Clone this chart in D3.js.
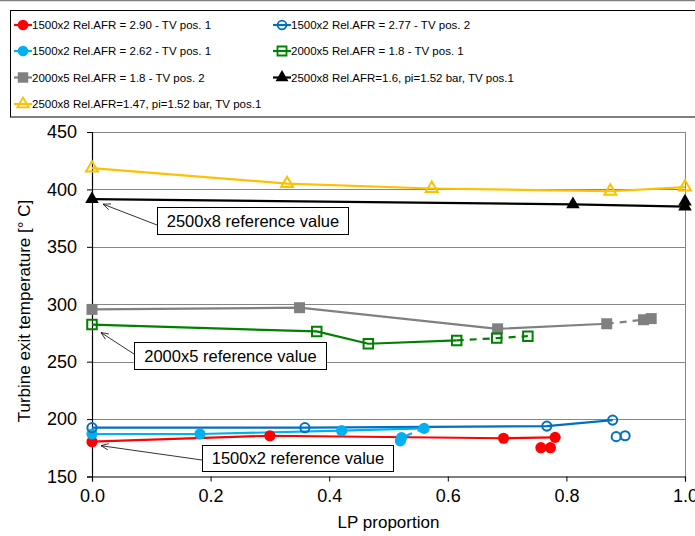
<!DOCTYPE html>
<html>
<head>
<meta charset="utf-8">
<script src="https://cdn.jsdelivr.net/npm/d3@7/dist/d3.min.js"></script>
<style>
  html, body { margin: 0; padding: 0; background: #fff; }
  svg { display: block; font-family: "Liberation Sans", Arial, sans-serif; }
</style>
</head>
<body>
<svg id="chart" width="695" height="536"></svg>
<script>
// LP proportion (x) and turbine exit temperature in °C (y) per test series
const red1500Line   = [[0, 180.3], [0.300, 185.5], [0.694, 183.3], [0.781, 184.1]];
const red1500Extra  = [[0.757, 175.1], [0.773, 175.1]];
const blue1500Line  = [[0, 192.5], [0.359, 192.5], [0.767, 193.9], [0.878, 199.1]];
const blue1500Extra = [[0.884, 184.7], [0.899, 185.5]];
const cyan1500Line  = [[0, 187.0], [0.182, 187.0], [0.421, 189.9], [0.560, 191.9]];
const cyan1500Dash  = [[0.560, 191.9], [0.522, 183.8], [0.520, 181.0]];
const green2000Line = [[0, 282.3], [0.379, 276.3], [0.466, 265.6], [0.615, 268.5]];
const green2000Dash = [[0.615, 268.5], [0.6825, 270.5], [0.735, 272.2]];
const gray2000Line  = [[0, 295.5], [0.350, 297.0], [0.684, 278.6], [0.868, 283.0]];
const gray2000Dash  = [[0.868, 283.0], [0.930, 286.5], [0.943, 287.5]];
const black2500Line = [[0, 391.5], [0.811, 387.0], [1.0, 385.0], [1.0, 389.5]];
const gold2500Line  = [[0, 418.6], [0.329, 405.1], [0.573, 400.8], [0.874, 398.4], [1.0, 402.0]];

const legendLabels = [
  "1500x2 Rel.AFR = 2.90 - TV pos. 1",
  "1500x2 Rel.AFR = 2.77 - TV pos. 2",
  "1500x2 Rel.AFR = 2.62 - TV pos. 1",
  "2000x5 Rel.AFR = 1.8 - TV pos. 1",
  "2000x5 Rel.AFR = 1.8 - TV pos. 2",
  "2500x8 Rel.AFR=1.6, pi=1.52 bar, TV pos.1",
  "2500x8 Rel.AFR=1.47, pi=1.52 bar, TV pos.1"
];
const xTicks = [0, 0.2, 0.4, 0.6, 0.8, 1.0];
const yTicks = [150, 200, 250, 300, 350, 400, 450];
const xTitle = "LP proportion";
const yTitle = "Turbine exit temperature [° C]";
const refLabels = ["2500x8 reference value", "2000x5 reference value", "1500x2 reference value"];
const refValues = [black2500Line[0], green2000Line[0], red1500Line[0]];

const svg = d3.select("#chart");
const x = d3.scaleLinear().domain([0, 1]).range([92, 685]);
const y = d3.scaleLinear().domain([150, 450]).range([476.5, 132]);

// Marker styles: shape, colour, filled or open
const styles = {
  red:   { color: "#FF0000", shape: "circle",   fill: true },
  blue:  { color: "#0070C0", shape: "circle",   fill: false },
  cyan:  { color: "#00B0F0", shape: "circle",   fill: true },
  green: { color: "#008000", shape: "square",   fill: false },
  gray:  { color: "#808080", shape: "square",   fill: true },
  black: { color: "#000000", shape: "triangle", fill: true },
  gold:  { color: "#FFC000", shape: "triangle", fill: false }
};

function symbolPath(st, scale) {
  const k = scale || 1;
  if (st.shape === "circle") return d3.symbol(d3.symbolCircle, (st.fill ? 98 : 66) * k * k)();
  if (st.shape === "square") return d3.symbol(d3.symbolSquare, (st.fill ? 121 : 90) * k * k)();
  return d3.symbol(d3.symbolTriangle, (st.fill ? 80 : 62) * k * k)();
}

// top border of the chart area
svg.append("line").attr("x1", 0).attr("x2", 695).attr("y1", 0.5).attr("y2", 0.5)
  .attr("stroke", "#7f7f7f").attr("stroke-width", 1.5);

// gridlines
const grid = svg.append("g");
grid.selectAll("line").data(yTicks.filter(d => d > 150)).join("line")
  .attr("x1", x(0)).attr("x2", x(1))
  .attr("y1", d => Math.round(y(d)) + 0.5).attr("y2", d => Math.round(y(d)) + 0.5)
  .attr("stroke", "#868686").attr("stroke-width", 1);
// right border of plot area
svg.append("line").attr("x1", x(1) + 0.5).attr("x2", x(1) + 0.5)
  .attr("y1", y(450)).attr("y2", y(150))
  .attr("stroke", "#868686").attr("stroke-width", 1);

// axes
const yAxis = svg.append("g").attr("transform", `translate(${x(0)},0)`)
  .call(d3.axisLeft(y).tickValues(yTicks).tickSize(5).tickPadding(10).tickFormat(d3.format("d")));
const xAxis = svg.append("g").attr("transform", `translate(0,${y(150)})`)
  .call(d3.axisBottom(x).tickValues(xTicks).tickSize(5).tickPadding(8).tickFormat(d3.format(".1f")));
[yAxis, xAxis].forEach(a => {
  a.select(".domain").attr("stroke", "#000").attr("stroke-width", 1.2);
  a.selectAll(".tick line").attr("stroke", "#000");
  a.selectAll("text").attr("font-family", "Liberation Sans, Arial, sans-serif")
    .attr("font-size", 18).attr("fill", "#000");
});

svg.append("text").attr("x", (x(0) + x(1)) / 2).attr("y", 528)
  .attr("text-anchor", "middle").attr("font-size", 17).text(xTitle);
svg.append("text").attr("transform", "translate(30,311) rotate(-90)")
  .attr("text-anchor", "middle").attr("font-size", 17).text(yTitle);

// series lines
const line = d3.line().x(d => x(d[0])).y(d => y(d[1]));
const lines = [
  [red1500Line, "red", false], [blue1500Line, "blue", false], [cyan1500Line, "cyan", false],
  [cyan1500Dash, "cyan", true], [green2000Line, "green", false], [green2000Dash, "green", true],
  [gray2000Line, "gray", false], [gray2000Dash, "gray", true],
  [black2500Line, "black", false], [gold2500Line, "gold", false]
];
const gLines = svg.append("g");
lines.forEach(([data, key, dashed]) => {
  gLines.append("path").datum(data).attr("d", line)
    .attr("fill", "none").attr("stroke", styles[key].color)
    .attr("stroke-width", 2.2)
    .attr("stroke-dasharray", dashed ? "7,6" : null);
});

// series markers
const markerSets = [
  [gray2000Line, "gray"], [gray2000Dash.slice(1), "gray"],
  [green2000Line, "green"], [green2000Dash.slice(1), "green"],
  [black2500Line, "black"], [gold2500Line, "gold"],
  [red1500Line, "red"], [red1500Extra, "red"],
  [cyan1500Line, "cyan"], [cyan1500Dash.slice(1), "cyan"],
  [blue1500Line, "blue"], [blue1500Extra, "blue"]
];
const gMarks = svg.append("g");
markerSets.forEach(([data, key]) => {
  const st = styles[key];
  gMarks.append("g").selectAll("path").data(data).join("path")
    .attr("transform", d => `translate(${x(d[0])},${y(d[1])})`)
    .attr("d", symbolPath(st))
    .attr("fill", st.fill ? st.color : "none")
    .attr("stroke", st.color)
    .attr("stroke-width", st.fill ? 0 : 2);
});

// reference value callouts: box with an arrow pointing to the x = 0 point
const callouts = [
  { box: [157.5, 207.5, 191, 27], from: [157, 225], off: [11, 5] },
  { box: [134.5, 342.5, 192, 27], from: [134, 354], off: [9, 8] },
  { box: [202.5, 445.5, 191, 26], from: [202, 460], off: [9, 4] }
];
const gCall = svg.append("g");
callouts.forEach((c, i) => {
  const tip = [x(refValues[i][0]) + c.off[0], y(refValues[i][1]) + c.off[1]];
  gCall.append("line").attr("x1", c.from[0]).attr("y1", c.from[1])
    .attr("x2", tip[0]).attr("y2", tip[1]).attr("stroke", "#000").attr("stroke-width", 0.8);
  const ang = Math.atan2(c.from[1] - tip[1], c.from[0] - tip[0]);
  const L = 8, spread = 0.4;
  const p1 = [tip[0] + L * Math.cos(ang + spread), tip[1] + L * Math.sin(ang + spread)];
  const p2 = [tip[0] + L * Math.cos(ang - spread), tip[1] + L * Math.sin(ang - spread)];
  gCall.append("path").attr("d", `M${p1}L${tip}L${p2}`)
    .attr("fill", "none").attr("stroke", "#000").attr("stroke-width", 0.8);
  gCall.append("rect").attr("x", c.box[0]).attr("y", c.box[1])
    .attr("width", c.box[2]).attr("height", c.box[3])
    .attr("fill", "#fff").attr("stroke", "#000").attr("stroke-width", 1);
  gCall.append("text").attr("x", c.box[0] + c.box[2] / 2).attr("y", c.box[1] + c.box[3] / 2)
    .attr("dy", "0.35em").attr("text-anchor", "middle").attr("font-size", 16.5)
    .text(refLabels[i]);
});

// legend
const legend = svg.append("g");
legend.append("rect").attr("x", 10.5).attr("y", 10.5).attr("width", 700).attr("height", 106.5)
  .attr("fill", "#fff").attr("stroke", "#000").attr("stroke-width", 1);
const legendKeys = ["red", "blue", "cyan", "green", "gray", "black", "gold"];
const rowY = [25, 51, 77.5, 104];
legendKeys.forEach((key, i) => {
  const st = styles[key];
  const col = i % 2, row = Math.floor(i / 2);
  const x0 = col === 0 ? 14 : 273;
  const cy = rowY[row];
  const g = legend.append("g");
  g.append("line").attr("x1", x0).attr("x2", x0 + 18).attr("y1", cy).attr("y2", cy)
    .attr("stroke", st.color).attr("stroke-width", 2.2);
  g.append("path").attr("transform", `translate(${x0 + 9},${cy})`)
    .attr("d", symbolPath(st, 0.95))
    .attr("fill", st.fill ? st.color : "none").attr("stroke", st.color)
    .attr("stroke-width", st.fill ? 0 : 1.8);
  g.append("text").attr("x", x0 + 18).attr("y", cy).attr("dy", "0.35em")
    .attr("font-size", 11.5).text(legendLabels[i]);
});
</script>
</body>
</html>
